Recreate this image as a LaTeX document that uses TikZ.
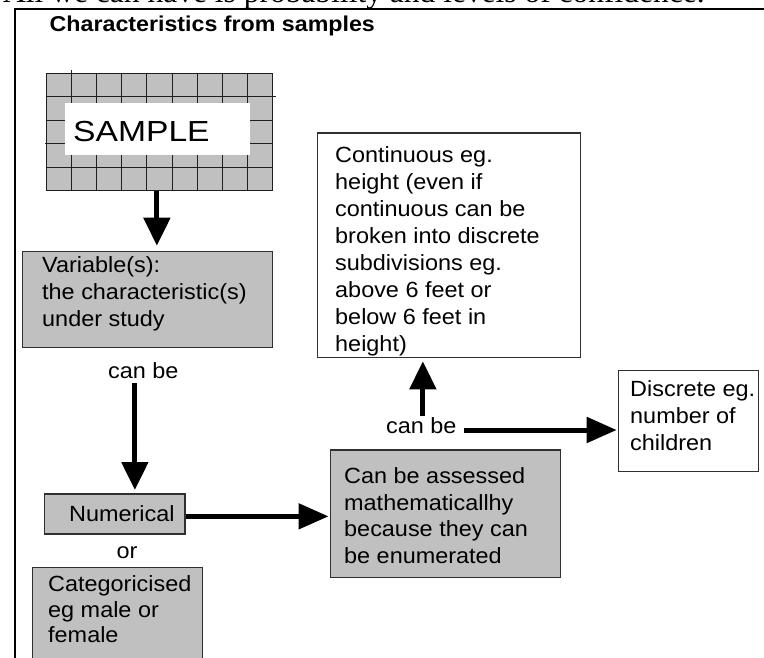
\documentclass[tikz,border=0pt]{standalone}
\usepackage{fontspec}
\usetikzlibrary{arrows.meta}
\newfontfamily\bodyfont{Liberation Sans}[FakeStretch=1.065]
\newfontfamily\titlefont{Liberation Sans}[FakeStretch=1.08]
\newfontfamily\samplefont{Liberation Sans}[FakeStretch=1.16]
\newfontfamily\headfont{Liberation Serif}
\definecolor{boxgray}{HTML}{C0C0C0}
\definecolor{edge}{HTML}{303030}
\tikzset{
  graybox/.style={draw=edge, fill=boxgray, line width=1.3pt, inner sep=0pt, anchor=north west},
  whitebox/.style={draw=edge, fill=white, line width=1.3pt, inner sep=0pt, anchor=north west},
  txt/.style={anchor=north west, inner sep=0pt, align=left, text=black, font=\bodyfont\fontsize{22}{27}\selectfont},
  lbl/.style={anchor=base west, inner sep=0pt, text=black, font=\bodyfont\fontsize{22}{27}\selectfont},
  gridline/.style={draw=black!88, line width=1pt},
  arr/.style={line width=5pt, -{Triangle[length=28pt, width=26pt]}},
  harr/.style={line width=5pt, -{Triangle[length=30pt, width=25pt]}},
}
\begin{document}
\begin{tikzpicture}[x=1pt, y=-1pt]
\useasboundingbox (0,0) rectangle (764,658);
% cut-off heading above the frame
\node[anchor=base west, inner sep=0pt, font=\headfont\fontsize{31.5}{36}\selectfont] (head) at (3,2.5) {All we can have is probability and levels of confidence.};
% frame
\coordinate (fbl) at (14.5,658);
\coordinate (ftl) at (14.5,9.5);
\coordinate (ftr) at (764,9.5);
\draw[line width=2pt] (fbl) -- (ftl) -- (ftr);
% title
\node[anchor=base west, inner sep=0pt, font=\titlefont\bfseries\fontsize{21.5}{25}\selectfont] (title) at (49.5,32) {Characteristics from samples};
% SAMPLE grid
\node[fill=boxgray, inner sep=0pt, minimum width=225.6pt, minimum height=117.7pt, anchor=north west] (sample) at (46.7,73.3) {};
\foreach \i in {0,...,9}
  \draw[gridline] ([xshift=\i*25.07pt]sample.north west) -- ([xshift=\i*25.07pt]sample.south west);
\foreach \j in {0,...,5}
  \draw[gridline] ([yshift=-\j*23.54pt]sample.north west) -- ([yshift=-\j*23.54pt]sample.north east);
\draw[gridline] ([yshift=-23.54pt]sample.north east) -- ++(3.4,0);
\draw[gridline] ([yshift=-70.62pt]sample.north west) -- ++(-2,0);
\draw[gridline] ([xshift=25.07pt]sample.north west) -- ++(0,-3);
\node[fill=white, inner sep=0pt, minimum width=185pt, minimum height=51.7pt, anchor=north west] (samplebox) at (65,103.3) {};
\node[anchor=base west, inner sep=0pt, font=\samplefont\fontsize{29}{36}\selectfont] (sampletext) at (73,142) {SAMPLE};
% Variable box
\node[graybox, minimum width=250.3pt, minimum height=96pt] (var) at (21.7,250.7) {};
\node[txt] (vartext) at (42,252) {\rule{0pt}{20pt}Variable(s):\\the characteristic(s)\\under study};
% can be (1)
\node[lbl] (canbe1) at (108,378) {can be};
% Numerical
\node[graybox, minimum width=140.3pt, minimum height=40pt] (num) at (44,493.3) {};
\node[lbl] (numtext) at (69,521.7) {Numerical};
\node[lbl, anchor=base] (or) at (127,558.3) {or};
% Categoricised
\node[graybox, minimum width=170pt, minimum height=100pt] (cat) at (31.7,566.7) {};
\node[txt, font=\bodyfont\fontsize{22}{25.5}\selectfont] (cattext) at (48,571.7) {\rule{0pt}{20pt}Categoricised\\eg male or\\female};
% Assessed
\node[graybox, minimum width=230pt, minimum height=127.4pt] (ass) at (330,449.3) {};
\node[txt, font=\bodyfont\fontsize{22}{26.7}\selectfont] (asstext) at (344,463.3) {\rule{0pt}{20pt}Can be assessed\\mathematicallhy\\because they can\\be enumerated};
% can be (2)
\node[lbl] (canbe2) at (386,433.5) {can be};
% Continuous
\node[whitebox, minimum width=263.3pt, minimum height=224.4pt] (cont) at (316.7,132.3) {};
\node[txt] (conttext) at (335,142.7) {\rule{0pt}{20pt}Continuous eg.\\height (even if\\continuous can be\\broken into discrete\\subdivisions eg.\\above 6 feet or\\below 6 feet in\\height)};
% Discrete
\node[whitebox, minimum width=139.7pt, minimum height=100.7pt] (disc) at (618,370) {};
\node[txt] (disctext) at (630,376.7) {\rule{0pt}{20pt}Discrete eg.\\number of\\children};
% arrows
\coordinate (a1) at ([xshift=-2.8pt]sample.south);
\draw[arr, shorten >=5pt] (a1) -- (a1 |- var.north);
\coordinate (a2) at ([xshift=-8.5pt, yshift=-5pt]canbe1.south);
\draw[arr, shorten >=3.3pt] (a2) -- (a2 |- num.north);
\coordinate (a3) at ([yshift=-2.4pt]num.east);
\draw[harr, shorten >=1.5pt] (a3) -- (a3 -| ass.west);
\coordinate (a4) at ([xshift=1.5pt, yshift=1pt]canbe2.north);
\draw[arr, shorten >=3.3pt] (a4) -- (a4 |- cont.south);
\coordinate (a5) at ([xshift=7pt, yshift=3.5pt]canbe2.base east);
\draw[harr, shorten >=1.3pt] (a5) -- (a5 -| disc.west);
\end{tikzpicture}
\end{document}
